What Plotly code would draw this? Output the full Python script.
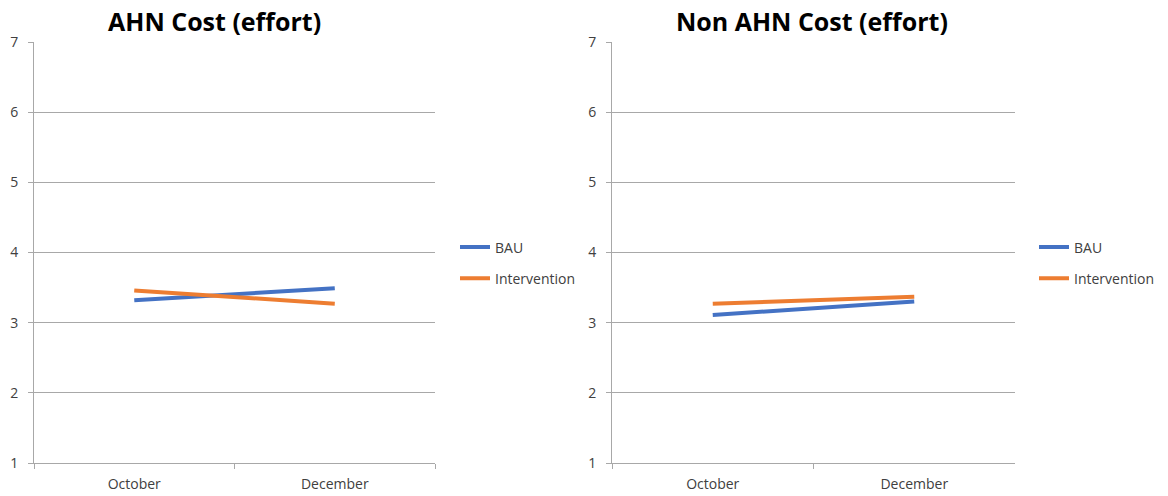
import plotly.graph_objects as go

months = ["October", "December"]
ahn_bau = [3.32, 3.49]
ahn_int = [3.46, 3.27]
non_bau = [3.11, 3.30]
non_int = [3.27, 3.37]
y_ticks = [1, 2, 3, 4, 5, 6, 7]

BLUE = "#4472C4"
ORANGE = "#ED7D31"
GRID = "#A8A8A8"
FONT = "Open Sans"
TXT = "#404040"

W, H = 1168, 496


def px(x):
    return x / W


def py(y):
    return 1 - y / H


fig = go.Figure()

def add(x, y, name, color, xa, ya, legend, group):
    fig.add_trace(go.Scatter(x=x, y=y, name=name, mode="lines",
                             line=dict(color=color, width=4),
                             xaxis=xa, yaxis=ya, legend=legend, legendgroup=group))

add(months, ahn_bau, "BAU", BLUE, "x", "y", "legend", "a1")
add(months, ahn_int, "Intervention", ORANGE, "x", "y", "legend", "a2")
add(months, non_bau, "BAU", BLUE, "x2", "y2", "legend2", "b1")
add(months, non_int, "Intervention", ORANGE, "x2", "y2", "legend2", "b2")

ydom = [py(463), py(42)]
xcommon = dict(type="category", range=[-0.5, 1.5], showgrid=False, showline=True,
               linecolor=GRID, linewidth=1, ticks="outside", tickson="boundaries",
               ticklen=5, tickcolor=GRID, tickfont=dict(family=FONT, size=14, color=TXT),
               ticklabelstandoff=8, automargin=False, fixedrange=True, zeroline=False)
ycommon = dict(range=[1, 7], tickvals=y_ticks, showgrid=True, gridcolor=GRID, gridwidth=1,
               showline=True, linecolor=GRID, linewidth=1, ticks="outside", ticklen=5,
               tickcolor=GRID, tickfont=dict(family=FONT, size=14, color=TXT),
               ticklabelstandoff=7, automargin=False, zeroline=False, fixedrange=True)

legcommon = dict(font=dict(family=FONT, size=14, color=TXT), bgcolor="rgba(0,0,0,0)",
                 tracegroupgap=10, xanchor="left", yanchor="middle", itemwidth=30)

fig.update_layout(
    width=W, height=H,
    margin=dict(l=0, r=0, t=0, b=0, autoexpand=False),
    paper_bgcolor="white", plot_bgcolor="white",
    xaxis=dict(domain=[px(34), px(435)], anchor="y", **xcommon),
    yaxis=dict(domain=ydom, anchor="x", **ycommon),
    xaxis2=dict(domain=[px(612), px(1015)], anchor="y2", **xcommon),
    yaxis2=dict(domain=ydom, anchor="x2", **ycommon),
    legend=dict(x=px(455), y=py(263), **legcommon),
    legend2=dict(x=px(1034), y=py(263), **legcommon),
    showlegend=True,
    annotations=[
        dict(text="<b>AHN Cost (effort)</b>", x=px(215), y=py(21), xref="paper", yref="paper",
             showarrow=False, font=dict(family=FONT, size=25, color="#000000"), xanchor="center", yanchor="middle"),
        dict(text="<b>Non AHN Cost (effort)</b>", x=px(812), y=py(21), xref="paper", yref="paper",
             showarrow=False, font=dict(family=FONT, size=25, color="#000000"), xanchor="center", yanchor="middle"),
    ],
)

fig.write_html("out.html", config={"displayModeBar": False},
               post_script="document.body.style.margin='0';")
